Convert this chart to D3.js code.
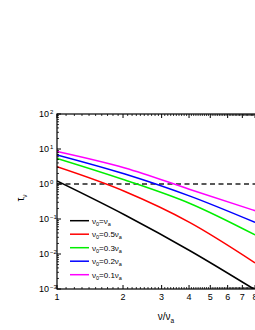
<!DOCTYPE html>
<html><head><meta charset="utf-8">
<script src="https://cdn.jsdelivr.net/npm/d3@7"></script>
<style>body{margin:0;background:#fff}svg{display:block;font-family:"Liberation Sans",Arial,sans-serif}</style>
</head><body><svg id="c" width="255" height="330"></svg>
<script>
const xVals = [1, 2.04, 4.04, 8];
const seriesNames = ["1", "0.5", "0.3", "0.2", "0.1"];
const seriesColors = ["#000000", "#ff0000", "#00ee00", "#0000ff", "#ff00ff"];
const tauBlack   = [1.22, 0.130, 0.0124, 0.00095];
const tauRed     = [3.1, 0.61, 0.079, 0.0056];
const tauGreen   = [5.4, 1.30, 0.277, 0.035];
const tauBlue    = [6.8, 1.93, 0.45, 0.080];
const tauMagenta = [8.5, 2.87, 0.70, 0.173];
const seriesVals = [tauBlack, tauRed, tauGreen, tauBlue, tauMagenta];
const xTicks = [1, 2, 3, 4, 5, 6, 7, 8];
const yTicks = [1e-3, 1e-2, 1e-1, 1e0, 1e1, 1e2];
const yExp = ["-3", "-2", "-1", "0", "1", "2"];
const dashedLevel = 1;
const xMax = 8.4;

const svg = d3.select("#c");
const L = 57, T = 114, B = 289;
const pxPerDecade = 219.3;
const R = L + pxPerDecade * Math.log10(xMax);
const x = d3.scaleLog().domain([1, xMax]).range([L, R]);
const y = d3.scaleLog().domain([1e-3, 1e2]).range([B, T]);

svg.append("defs").append("clipPath").attr("id", "pc")
  .append("rect").attr("x", L).attr("y", T).attr("width", R - L).attr("height", B - T);

const g = svg.append("g").attr("clip-path", "url(#pc)");
g.append("line").attr("x1", L).attr("x2", R).attr("y1", y(dashedLevel)).attr("y2", y(dashedLevel))
  .attr("stroke", "#222").attr("stroke-width", 1.4).attr("stroke-dasharray", "5,3.5");

const line = d3.line().x((d, i) => x(xVals[i])).y(d => y(d)).curve(d3.curveMonotoneX);
seriesVals.forEach((vals, k) => {
  g.append("path").attr("d", line(vals)).attr("fill", "none")
    .attr("stroke", seriesColors[k]).attr("stroke-width", 1.5);
});

const ax = svg.append("g").attr("stroke", "#000").attr("fill", "none");
ax.append("rect").attr("x", L).attr("y", T).attr("width", R - L).attr("height", B - T).attr("stroke-width", 1.2);

const xMinor = [];
for (let i = 1; i < 9; i++) for (let j = 1; j < 10; j++) { const v = i + j / 10; if (v < xMax) xMinor.push(v); }
xTicks.forEach(t => {
  ax.append("line").attr("x1", x(t)).attr("x2", x(t)).attr("y1", B).attr("y2", B - 4);
  ax.append("line").attr("x1", x(t)).attr("x2", x(t)).attr("y1", T).attr("y2", T + 4);
});
xMinor.forEach(t => {
  ax.append("line").attr("x1", x(t)).attr("x2", x(t)).attr("y1", B).attr("y2", B - 2).attr("stroke-width", 0.8);
  ax.append("line").attr("x1", x(t)).attr("x2", x(t)).attr("y1", T).attr("y2", T + 2).attr("stroke-width", 0.8);
});
yTicks.forEach(t => {
  ax.append("line").attr("x1", L).attr("x2", L + 4).attr("y1", y(t)).attr("y2", y(t));
  ax.append("line").attr("x1", R).attr("x2", R - 4).attr("y1", y(t)).attr("y2", y(t));
});
for (let e = -3; e < 2; e++) for (let m = 2; m < 10; m++) {
  const v = m * Math.pow(10, e);
  ax.append("line").attr("x1", L).attr("x2", L + 2).attr("y1", y(v)).attr("y2", y(v)).attr("stroke-width", 0.8);
  ax.append("line").attr("x1", R).attr("x2", R - 2).attr("y1", y(v)).attr("y2", y(v)).attr("stroke-width", 0.8);
}

xTicks.forEach(t => {
  svg.append("text").attr("x", x(t)).attr("y", 300).attr("text-anchor", "middle")
    .attr("font-size", 9).text(String(t));
});
yTicks.forEach((t, i) => {
  svg.append("text").attr("x", 49).attr("y", y(t) + 3.2).attr("text-anchor", "end").attr("font-size", 9).text("10");
  svg.append("text").attr("x", 50).attr("y", y(t) - 0.5).attr("font-size", 6).text(yExp[i].replace("-", "\u2212"));
});

const xt = svg.append("text").attr("x", 166).attr("y", 320).attr("text-anchor", "middle").attr("font-size", 10);
xt.append("tspan").text("\u03bd/\u03bd");
xt.append("tspan").attr("font-size", 6.5).attr("dy", 3).text("a");
const yt = svg.append("text").attr("transform", "translate(24,198) rotate(-90)").attr("text-anchor", "middle").attr("font-size", 10);
yt.append("tspan").text("\u03c4");
yt.append("tspan").attr("font-size", 6.5).attr("dy", 3).text("\u03bd");

seriesNames.forEach((n, k) => {
  const ly = 220.7 + k * 13.5;
  svg.append("line").attr("x1", 70).attr("x2", 89).attr("y1", ly).attr("y2", ly)
    .attr("stroke", seriesColors[k]).attr("stroke-width", 1.5);
  const t = svg.append("text").attr("x", 92).attr("y", ly + 3).attr("font-size", 8);
  t.append("tspan").text("\u03bd");
  t.append("tspan").attr("font-size", 5.5).attr("dy", 2).text("0");
  t.append("tspan").attr("dy", -2).text("=" + (n === "1" ? "" : n) + "\u03bd");
  t.append("tspan").attr("font-size", 5.5).attr("dy", 2).text("a");
});
</script></body></html>
